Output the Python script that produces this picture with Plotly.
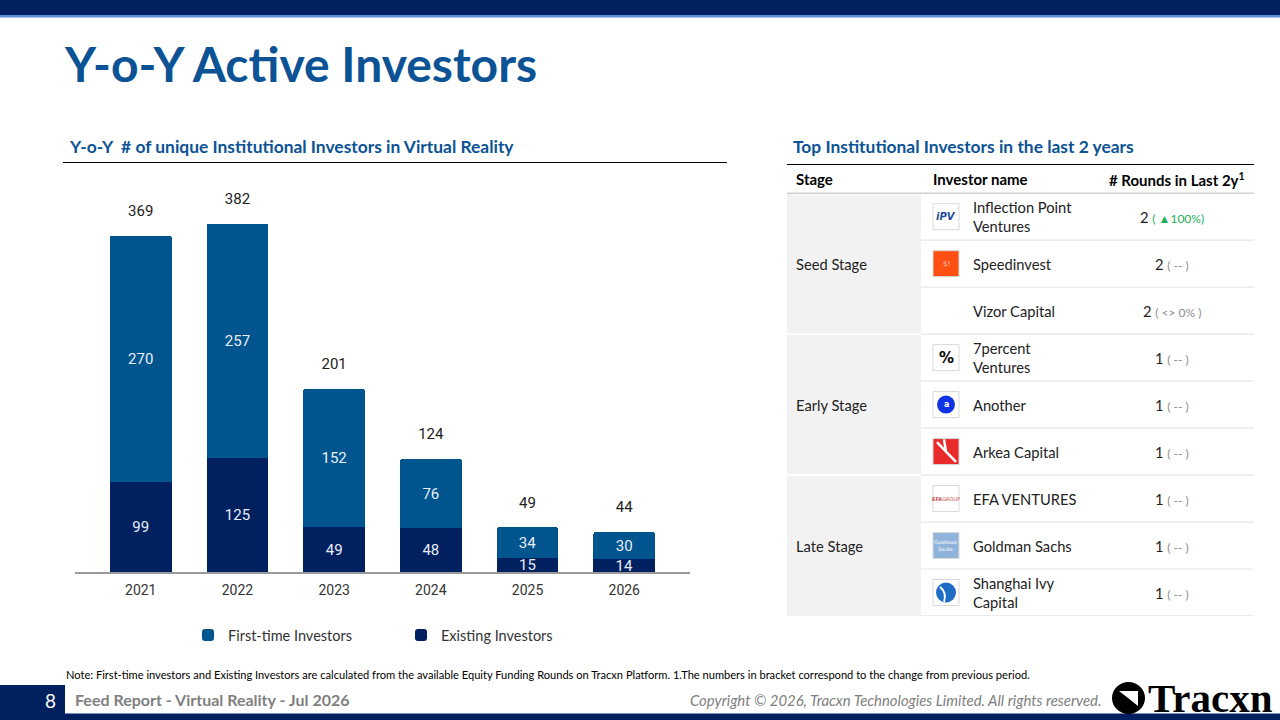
import plotly.graph_objects as go

# bar chart data
years = ['2021', '2022', '2023', '2024', '2025', '2026']
first_time = [270, 257, 152, 76, 34, 30]
existing = [99, 125, 49, 48, 15, 14]
totals = [369, 382, 201, 124, 49, 44]

# table data
stages = ['Seed Stage', 'Early Stage', 'Late Stage']
investors = ['Inflection Point<br>Ventures', 'Speedinvest', 'Vizor Capital',
             '7percent<br>Ventures', 'Another', 'Arkea Capital',
             'EFA VENTURES', 'Goldman Sachs', 'Shanghai Ivy<br>Capital']
rounds = [2, 2, 2, 1, 1, 1, 1, 1, 1]
changes = ['( ▲100%)', '( -- )', '( &lt;&gt; 0% )', '( -- )', '( -- )',
           '( -- )', '( -- )', '( -- )', '( -- )']
logos = ['ipv', 'speedinvest', None, '7percent', 'another', 'arkea',
         'efa', 'goldman', 'ivy']

NAVY = '#002060'
BLUE = '#00558F'
TITLE_BLUE = '#0B5394'
FONT = 'Lato'
W, H = 1280, 720


def px(x):
    return x / W


def py(y):
    return 1 - y / H


fig = go.Figure()

fig.add_trace(go.Bar(
    x=years, y=existing, name='Existing Investors',
    marker=dict(color=NAVY, line_width=0), text=existing, textposition='inside',
    insidetextanchor='middle', textangle=0, constraintext='none',
    textfont=dict(family='Roboto', size=15, color='#E8EEF6'),
    legendrank=2,
))
fig.add_trace(go.Bar(
    x=years, y=first_time, name='First-time Investors',
    marker=dict(color=BLUE, line_width=0), text=first_time, textposition='inside',
    insidetextanchor='middle', textangle=0, constraintext='none',
    textfont=dict(family='Roboto', size=15, color='#E8EEF6'),
    legendrank=1,
))
# totals above the bars (invisible marker pushes the text up)
fig.add_trace(go.Scatter(
    x=years, y=totals, mode='markers+text', text=totals, textposition='top center',
    marker=dict(size=24, opacity=0), showlegend=False, hoverinfo='skip',
    textfont=dict(family='Roboto', size=15, color='#222222'),
))

annotations = []
shapes = []

# ---- page decoration ----
shapes += [
    dict(type='rect', xref='paper', yref='paper', x0=0, x1=1, y0=py(15), y1=1,
         fillcolor=NAVY, line_width=0, layer='below'),
    dict(type='rect', xref='paper', yref='paper', x0=0, x1=1, y0=py(17.5), y1=py(15),
         fillcolor='#5B8FD8', line_width=0, layer='below'),
    dict(type='line', xref='paper', yref='paper', x0=px(63), x1=px(727), y0=py(162.5), y1=py(162.5),
         line=dict(color='black', width=1.2)),
    dict(type='line', xref='paper', yref='paper', x0=px(787), x1=px(1254), y0=py(164.5), y1=py(164.5),
         line=dict(color='black', width=1.2)),
    # footer
    dict(type='rect', xref='paper', yref='paper', x0=0, x1=px(65), y0=0, y1=py(685),
         fillcolor=NAVY, line_width=0),
    dict(type='rect', xref='paper', yref='paper', x0=0, x1=1, y0=0, y1=py(713.5),
         fillcolor=NAVY, line_width=0),
    dict(type='circle', xref='paper', yref='paper', x0=px(1112), x1=px(1145), y0=py(714), y1=py(682),
         fillcolor='black', line_width=0),
    dict(type='path', xref='paper', yref='paper',
         path='M {},{} L {},{} L {},{} L {},{} Z'.format(px(1119), py(691), px(1138), py(691),
                                                          px(1138), py(706), px(1128), py(698)),
         fillcolor='white', line_width=0),
]

annotations += [
    dict(xref='paper', yref='paper', x=px(62), y=py(63), xanchor='left', yanchor='middle',
         text='<b>Y-o-Y Active Investors</b>', showarrow=False,
         font=dict(family=FONT, size=48, color=TITLE_BLUE)),
    dict(xref='paper', yref='paper', x=px(67), y=py(147), xanchor='left', yanchor='middle',
         text='<b>Y-o-Y  # of unique Institutional Investors in Virtual Reality</b>', showarrow=False,
         font=dict(family=FONT, size=17.4, color=TITLE_BLUE)),
    dict(xref='paper', yref='paper', x=px(791), y=py(147), xanchor='left', yanchor='middle',
         text='<b>Top Institutional Investors in the last 2 years</b>', showarrow=False,
         font=dict(family=FONT, size=17.4, color=TITLE_BLUE)),
    dict(xref='paper', yref='paper', x=px(64), y=py(674), xanchor='left', yanchor='middle',
         text='Note: First-time investors and Existing Investors are calculated from the available '
              'Equity Funding Rounds on Tracxn Platform. 1.The numbers in bracket correspond to the '
              'change from previous period.', showarrow=False,
         font=dict(family=FONT, size=11.1, color='black')),
    dict(xref='paper', yref='paper', x=px(50), y=py(700), xanchor='center', yanchor='middle',
         text='8', showarrow=False, font=dict(family=FONT, size=19, color='white')),
    dict(xref='paper', yref='paper', x=px(73), y=py(699), xanchor='left', yanchor='middle',
         text='<b>Feed Report - Virtual Reality - Jul 2026</b>', showarrow=False,
         font=dict(family=FONT, size=16, color='#7F7F7F')),
    dict(xref='paper', yref='paper', x=px(1103), y=py(700), xanchor='right', yanchor='middle',
         text='<i>Copyright © 2026, Tracxn Technologies Limited. All rights reserved.</i>', showarrow=False,
         font=dict(family=FONT, size=14.9, color='#808080')),
    dict(xref='paper', yref='paper', x=px(1146), y=py(698), xanchor='left', yanchor='middle',
         text='<b>Tracxn</b>', showarrow=False,
         font=dict(family='Liberation Serif', size=41, color='black')),
]

# ---- table (x2/y2: x in px from table left, y in row units) ----
TW = 467
STAGE_W = 134
X_LOGO0, X_LOGO1 = 146, 172
X_NAME = 184
X_ROUNDS = 385
TFONT = 14.7

for g, st in enumerate(stages):
    shapes.append(dict(type='rect', xref='x2', yref='y2', x0=0, x1=STAGE_W,
                       y0=g * 3 - 0.5 + 0.02, y1=g * 3 + 2.5 - 0.02,
                       fillcolor='#F2F2F2', line_width=0, layer='below'))
    annotations.append(dict(xref='x2', yref='y2', x=7, y=g * 3 + 1, xanchor='left', yanchor='middle',
                            text=st, showarrow=False, font=dict(family=FONT, size=TFONT, color='#222222')))

shapes.append(dict(type='line', xref='x2', yref='y2', x0=0, x1=TW, y0=-0.5, y1=-0.5,
                   line=dict(color='#D0D0D0', width=1.5)))
for i in range(len(investors)):
    shapes.append(dict(type='line', xref='x2', yref='y2', x0=STAGE_W, x1=TW, y0=i + 0.5, y1=i + 0.5,
                       line=dict(color='#E6E6E6', width=1.2)))
shapes.append(dict(type='line', xref='x2', yref='y2', x0=0, x1=TW, y0=8.5, y1=8.5,
                   line=dict(color='#E6E6E6', width=1.2)))

hdr_font = dict(family=FONT, size=15, color='black')
annotations += [
    dict(xref='x2', yref='y2', x=7, y=-0.8, xanchor='left', yanchor='middle', text='<b>Stage</b>',
         showarrow=False, font=hdr_font),
    dict(xref='x2', yref='y2', x=144, y=-0.8, xanchor='left', yanchor='middle', text='<b>Investor name</b>',
         showarrow=False, font=hdr_font),
    dict(xref='x2', yref='y2', x=390, y=-0.8, xanchor='center', yanchor='middle',
         text='<b># Rounds in Last 2y<sup>1</sup></b>', showarrow=False, font=hdr_font),
]

for i, (name, r, ch) in enumerate(zip(investors, rounds, changes)):
    annotations.append(dict(xref='x2', yref='y2', x=X_NAME, y=i, xanchor='left', yanchor='middle',
                            text=name, showarrow=False, align='left',
                            font=dict(family=FONT, size=TFONT, color='#222222')))
    col = '#1DAE5B' if '▲' in ch else '#8C8C8C'
    annotations.append(dict(xref='x2', yref='y2', x=X_ROUNDS, y=i, xanchor='center', yanchor='middle',
                            text='{} <span style="font-size:12px;color:{}">{}</span>'.format(r, col, ch),
                            showarrow=False, font=dict(family=FONT, size=TFONT, color='#222222')))

# logos (rough drawings)
HL = 13 / 47.0
CX = (X_LOGO0 + X_LOGO1) / 2.0
for i, kind in enumerate(logos):
    if kind is None:
        continue
    box = dict(type='rect', xref='x2', yref='y2', x0=X_LOGO0, x1=X_LOGO1, y0=i - HL, y1=i + HL,
               line=dict(color='#D9D9D9', width=1), fillcolor='white')
    if kind == 'speedinvest':
        box['fillcolor'] = '#FF5014'
    elif kind == 'arkea':
        box['fillcolor'] = '#E82A2A'
    elif kind == 'goldman':
        box['fillcolor'] = '#8FB3DB'
    shapes.append(box)
    if kind == 'ipv':
        annotations.append(dict(xref='x2', yref='y2', x=CX, y=i, text='<b><i>iPV</i></b>', showarrow=False,
                                font=dict(family='DejaVu Sans', size=10, color='#1F4E9A')))
    elif kind == 'speedinvest':
        annotations.append(dict(xref='x2', yref='y2', x=CX, y=i, text='$!', showarrow=False,
                                font=dict(family='DejaVu Sans', size=7, color='#FFD0C0')))
    elif kind == '7percent':
        annotations.append(dict(xref='x2', yref='y2', x=CX, y=i, text='<b>%</b>', showarrow=False,
                                font=dict(family='DejaVu Sans', size=15, color='black')))
    elif kind == 'another':
        shapes.append(dict(type='circle', xref='x2', yref='y2', x0=CX - 9, x1=CX + 9,
                           y0=i - 9 / 47.0, y1=i + 9 / 47.0, fillcolor='#1033E6', line_width=0))
        annotations.append(dict(xref='x2', yref='y2', x=CX, y=i, text='<b>a</b>', showarrow=False,
                                font=dict(family='DejaVu Sans', size=8, color='white')))
    elif kind == 'arkea':
        shapes.append(dict(type='path', xref='x2', yref='y2',
                           path='M {},{} L {},{} L {},{} M {},{} L {},{}'.format(
                               X_LOGO0 + 4, i - 0.2, CX, i, X_LOGO1 - 3, i + 0.22, CX, i, CX - 2, i - 0.26),
                           line=dict(color='white', width=2.5)))
    elif kind == 'efa':
        annotations.append(dict(xref='x2', yref='y2', x=CX, y=i, text='<b>EFA</b>GROUP', showarrow=False,
                                font=dict(family='DejaVu Sans', size=5, color='#C0504D')))
    elif kind == 'goldman':
        annotations.append(dict(xref='x2', yref='y2', x=CX, y=i, text='Goldman<br>Sachs', showarrow=False,
                                font=dict(family='DejaVu Serif', size=5, color='white')))
    elif kind == 'ivy':
        shapes.append(dict(type='circle', xref='x2', yref='y2', x0=CX - 10, x1=CX + 10,
                           y0=i - 10 / 47.0, y1=i + 10 / 47.0, fillcolor='#1F6CC4', line_width=0))
        shapes.append(dict(type='path', xref='x2', yref='y2',
                           path='M {},{} Q {},{} {},{}'.format(CX - 6, i - 0.12, CX + 1, i, CX - 2, i + 0.2),
                           line=dict(color='white', width=2)))

fig.update_layout(
    width=W, height=H,
    margin=dict(l=0, r=0, t=0, b=0),
    paper_bgcolor='white', plot_bgcolor='white',
    barmode='stack', bargap=0.36, barcornerradius=3,
    font=dict(family=FONT),
    xaxis=dict(domain=[px(75), px(690)], type='category', range=[-0.68, 5.68],
               showline=True, linecolor='#9A9A9A', linewidth=1.5, ticks='', ticklabelstandoff=4,
               tickfont=dict(family='Roboto', size=14, color='#333333'), fixedrange=True),
    yaxis=dict(domain=[py(572), py(180)], range=[0, 430], showgrid=False, zeroline=False,
               showticklabels=False, fixedrange=True),
    xaxis2=dict(domain=[px(787), px(1254)], range=[0, TW], anchor='y2', visible=False, fixedrange=True),
    yaxis2=dict(domain=[py(616), py(165)], range=[8.5, -1.1], anchor='x2', visible=False, fixedrange=True),
    legend=dict(orientation='h', x=px(188), y=py(635), xanchor='left', yanchor='middle',
                entrywidth=168, entrywidthmode='pixels', itemwidth=30,
                font=dict(family=FONT, size=14.5, color='#333333'), traceorder='normal'),
    shapes=shapes,
    annotations=annotations,
)

fig.write_html('out.html', config={'displayModeBar': False},
               post_script="document.body.style.margin='0';document.body.style.overflow='hidden';")
